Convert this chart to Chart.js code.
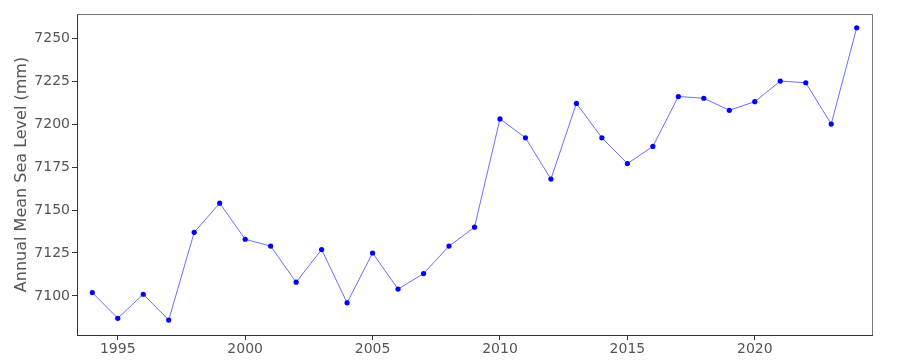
<!DOCTYPE html>
<html>
<head>
<meta charset="utf-8">
<script src="https://cdn.jsdelivr.net/npm/chart.js@4/dist/chart.umd.min.js"></script>
<style>
  html, body { margin: 0; padding: 0; background: #fff; }
  #wrap { width: 900px; height: 360px; }
</style>
</head>
<body>
<div id="wrap"><canvas id="sea-level-chart" width="900" height="360"></canvas></div>
<script>
(function() {
    'use strict';

    var years = [1994, 1995, 1996, 1997, 1998, 1999, 2000, 2001, 2002, 2003, 2004, 2005, 2006, 2007, 2008,
                 2009, 2010, 2011, 2012, 2013, 2014, 2015, 2016, 2017, 2018, 2019, 2020, 2021, 2022, 2023, 2024];
    var seaLevel = [7102, 7087, 7101, 7086, 7137, 7154, 7133, 7129, 7108, 7127, 7096, 7125, 7104, 7113, 7129,
                    7140, 7203, 7192, 7168, 7212, 7192, 7177, 7187, 7216, 7215, 7208, 7213, 7225, 7224, 7200, 7256];
    var xTicks = [1995, 2000, 2005, 2010, 2015, 2020];
    var yTicks = [7100, 7125, 7150, 7175, 7200, 7225, 7250];

    var points = years.map(function( y, i ) { return { x: y, y: seaLevel[ i ] }; });

    // light grey top/right frame, like the original axes box
    var framePlugin = {
        id: 'frame',
        afterDraw: function( chart ) {
            var a = chart.chartArea, c = chart.ctx;
            c.save();
            c.strokeStyle = '#777';
            c.lineWidth = 1;
            c.beginPath();
            c.moveTo( a.left, a.top + 0.5 );
            c.lineTo( a.right + 0.5, a.top + 0.5 );
            c.lineTo( a.right + 0.5, a.bottom );
            c.stroke();
            c.restore();
        }
    };

    var tickFont = { family: 'DejaVu Sans', size: 14 };

    new Chart( document.getElementById( 'sea-level-chart' ).getContext( '2d' ), {
        type: 'line',
        data: {
            datasets: [ {
                label: 'Annual Mean Sea Level',
                data: points,
                borderColor: 'rgba(60,60,255,0.75)',
                borderWidth: 1,
                backgroundColor: '#0000ff',
                pointBackgroundColor: '#0000ff',
                pointBorderColor: '#0000ff',
                pointBorderWidth: 0,
                pointRadius: 2.6,
                tension: 0,
                fill: false
            } ]
        },
        options: {
            responsive: false,
            animation: false,
            devicePixelRatio: 1,
            layout: { padding: { top: 14, right: 28, left: 0, bottom: 0 } },
            plugins: {
                legend: { display: false },
                tooltip: { enabled: false }
            },
            scales: {
                x: {
                    type: 'linear',
                    min: 1993.4,
                    max: 2024.6,
                    afterBuildTicks: function( s ) { s.ticks = xTicks.map( function( v ) { return { value: v }; } ); },
                    afterFit: function( s ) { s.height = 25; },
                    grid: { display: true, drawOnChartArea: false, drawTicks: true, tickLength: 5, color: '#333' },
                    border: { display: true, color: '#333', width: 1 },
                    ticks: {
                        font: tickFont, color: '#555', padding: 1, maxRotation: 0,
                        callback: function( v ) { return String( v ); }
                    }
                },
                y: {
                    type: 'linear',
                    min: 7077.3,
                    max: 7264,
                    afterBuildTicks: function( s ) { s.ticks = yTicks.map( function( v ) { return { value: v }; } ); },
                    afterFit: function( s ) { s.width = 77; },
                    grid: { display: true, drawOnChartArea: false, drawTicks: true, tickLength: 5, color: '#333' },
                    border: { display: true, color: '#333', width: 1 },
                    ticks: {
                        font: tickFont, color: '#555', padding: 2,
                        callback: function( v ) { return String( v ); }
                    },
                    title: {
                        display: true,
                        text: 'Annual Mean Sea Level (mm)',
                        font: { family: 'DejaVu Sans', size: 16 },
                        color: '#555',
                        padding: { top: 12, bottom: 0 }
                    }
                }
            }
        },
        plugins: [ framePlugin ]
    } );
})();
</script>
</body>
</html>
